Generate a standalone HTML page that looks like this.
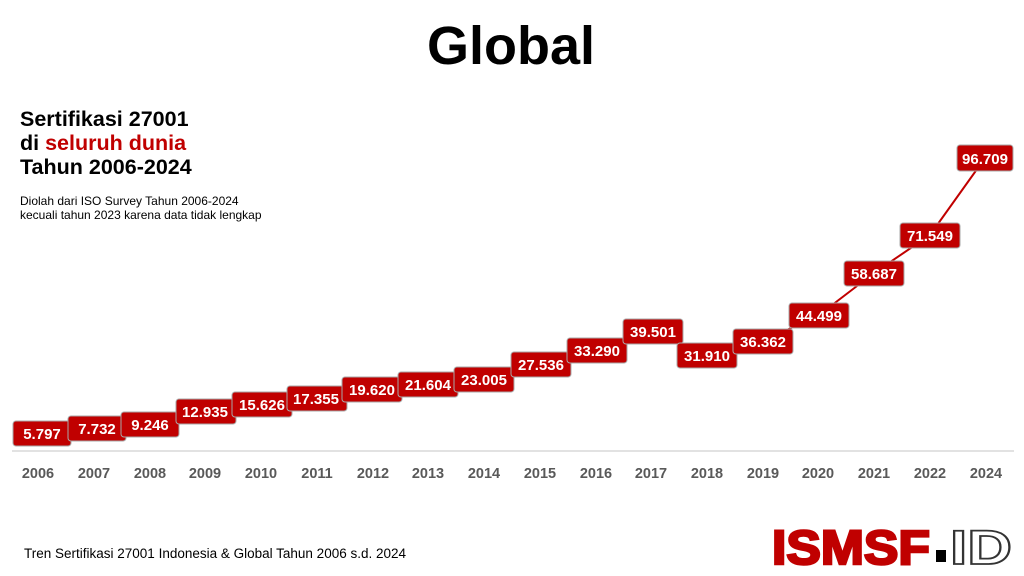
<!DOCTYPE html>
<html><head><meta charset="utf-8"><style>
body{margin:0;background:#fff;}
svg{display:block;font-family:"Liberation Sans",sans-serif;}
.b{fill:#c00000;stroke:#a9a9a9;stroke-width:1;}
.t{fill:#fff;font-weight:bold;font-size:15px;text-anchor:middle;}
.x{fill:#595959;font-weight:bold;font-size:14.5px;text-anchor:middle;}
</style></head><body>
<svg width="1024" height="576" viewBox="0 0 1024 576">
<text x="511" y="64" font-size="54" font-weight="bold" text-anchor="middle" fill="#000">Global</text>
<text x="20" y="126" font-size="21.5" font-weight="bold">Sertifikasi 27001</text>
<text x="20" y="150" font-size="21.5" font-weight="bold">di <tspan fill="#c00000">seluruh dunia</tspan></text>
<text x="20" y="174" font-size="21.5" font-weight="bold">Tahun 2006-2024</text>
<text x="20" y="205" font-size="12">Diolah dari ISO Survey Tahun 2006-2024</text>
<text x="20" y="219" font-size="12">kecuali tahun 2023 karena data tidak lengkap</text>
<line x1="12" y1="451" x2="1014" y2="451" stroke="#d9d9d9" stroke-width="1.5"/>
<polyline fill="none" stroke="#c00000" stroke-width="2" points="42,433 97,428 150,424 205,411 262,404 316,398 372,389 428,384 484,379 541,364 597,350 653,331 707,355 763,341 819,315 874,273 930,235 985,158"/>
<g>
<rect class="b" x="13" y="421" width="58" height="25" rx="3"/><text class="t" x="42" y="439">5.797</text>
<rect class="b" x="68" y="416" width="58" height="25" rx="3"/><text class="t" x="97" y="434">7.732</text>
<rect class="b" x="121" y="412" width="58" height="25" rx="3"/><text class="t" x="150" y="430">9.246</text>
<rect class="b" x="176" y="399" width="60" height="25" rx="3"/><text class="t" x="205" y="417">12.935</text>
<rect class="b" x="232" y="392" width="60" height="25" rx="3"/><text class="t" x="262" y="410">15.626</text>
<rect class="b" x="287" y="386" width="60" height="25" rx="3"/><text class="t" x="316" y="404">17.355</text>
<rect class="b" x="342" y="377" width="60" height="25" rx="3"/><text class="t" x="372" y="395">19.620</text>
<rect class="b" x="398" y="372" width="60" height="25" rx="3"/><text class="t" x="428" y="390">21.604</text>
<rect class="b" x="454" y="367" width="60" height="25" rx="3"/><text class="t" x="484" y="385">23.005</text>
<rect class="b" x="511" y="352" width="60" height="25" rx="3"/><text class="t" x="541" y="370">27.536</text>
<rect class="b" x="567" y="338" width="60" height="25" rx="3"/><text class="t" x="597" y="356">33.290</text>
<rect class="b" x="623" y="319" width="60" height="25" rx="3"/><text class="t" x="653" y="337">39.501</text>
<rect class="b" x="677" y="343" width="60" height="25" rx="3"/><text class="t" x="707" y="361">31.910</text>
<rect class="b" x="733" y="329" width="60" height="25" rx="3"/><text class="t" x="763" y="347">36.362</text>
<rect class="b" x="789" y="303" width="60" height="25" rx="3"/><text class="t" x="819" y="321">44.499</text>
<rect class="b" x="844" y="261" width="60" height="25" rx="3"/><text class="t" x="874" y="279">58.687</text>
<rect class="b" x="900" y="223" width="60" height="25" rx="3"/><text class="t" x="930" y="241">71.549</text>
<rect class="b" x="957" y="145" width="56" height="26" rx="3"/><text class="t" x="985" y="164">96.709</text>
</g>
<g>
<text class="x" x="38" y="478">2006</text><text class="x" x="94" y="478">2007</text><text class="x" x="150" y="478">2008</text><text class="x" x="205" y="478">2009</text><text class="x" x="261" y="478">2010</text><text class="x" x="317" y="478">2011</text><text class="x" x="373" y="478">2012</text><text class="x" x="428" y="478">2013</text><text class="x" x="484" y="478">2014</text><text class="x" x="540" y="478">2015</text><text class="x" x="596" y="478">2016</text><text class="x" x="651" y="478">2017</text><text class="x" x="707" y="478">2018</text><text class="x" x="763" y="478">2019</text><text class="x" x="818" y="478">2020</text><text class="x" x="874" y="478">2021</text><text class="x" x="930" y="478">2022</text><text class="x" x="986" y="478">2024</text>
</g>
<text x="24" y="558" font-size="13.5">Tren Sertifikasi 27001 Indonesia &amp; Global Tahun 2006 s.d. 2024</text>
<text x="772" y="564" font-size="48" font-weight="bold" fill="#c00000" stroke="#c00000" stroke-width="2.5" textLength="158" lengthAdjust="spacingAndGlyphs">ISMSF</text>
<rect x="936" y="550" width="10" height="12" fill="#000"/>
<text x="950" y="564" font-size="48" font-weight="bold" fill="#fff" stroke="#333" stroke-width="1.8" textLength="62" lengthAdjust="spacingAndGlyphs">ID</text>
</svg>
</body></html>
